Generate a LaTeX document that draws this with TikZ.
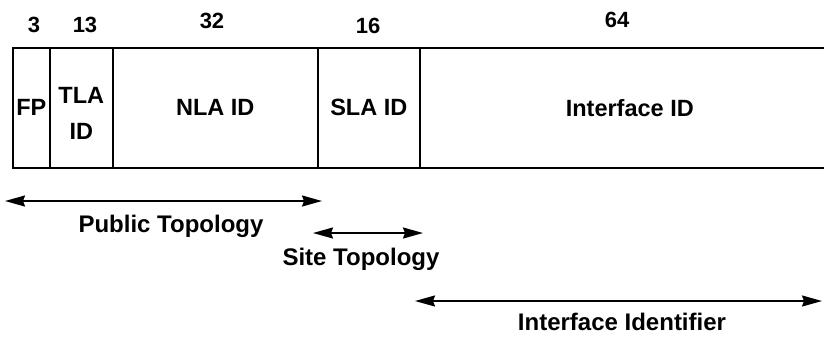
\documentclass[tikz,border=0pt]{standalone}
\usepackage{fontspec}
\setmainfont{Liberation Sans}
\usetikzlibrary{arrows.meta,positioning}
\tikzset{
  field/.style={draw, line width=1.6pt, minimum height=120pt, inner sep=0pt,
                anchor=north west, align=center, font=\fontsize{23.5}{36}\selectfont\bfseries},
  bits/.style={anchor=base, font=\fontsize{22}{26}\selectfont\bfseries},   % field length in bits
  span/.style={{Stealth[length=20pt,width=11pt,inset=2pt]}-{Stealth[length=20pt,width=11pt,inset=2pt]},
               line width=1.8pt},
  tag/.style={anchor=base, font=\fontsize{24}{28}\selectfont\bfseries},
}
% #1 name, #2 left edge, #3 width, #4 text
\newcommand{\fieldat}[4]{\node[field, minimum width=#3pt] (#1) at (#2,47) {#4};}

\begin{document}
\begin{tikzpicture}[x=1pt,y=-1pt]
  \useasboundingbox (0,0) rectangle (824,338);

  % address fields
  \fieldat{fp}{12}{37}{FP}
  \fieldat{tla}{49}{63}{}
  \fieldat{nla}{112}{205}{NLA ID}
  \fieldat{sla}{317}{102}{SLA ID}
  \fieldat{ifid}{419}{420}{Interface ID}
  \node[align=center, inner sep=0pt, font=\fontsize{23.5}{36}\selectfont\bfseries,
        yshift=-6pt] (tlatxt) at (tla.center) {TLA\\ID};

  % bit counts
  \node[bits] (bfp)  at (34,32)  {3};
  \node[bits] (btla) at (85,32)  {13};
  \node[bits] (bnla) at (212,28) {32};
  \node[bits] (bsla) at (368,33) {16};
  \node[bits] (bif)  at (617,27) {64};

  % topology spans
  \coordinate (pubL) at (5,201);   \coordinate (pubR) at (322,201);
  \coordinate (siteL) at (313,233); \coordinate (siteR) at (423,233);
  \coordinate (ifL) at (415,301);  \coordinate (ifR) at (822,301);
  \draw[span] (pubL) -- (pubR);
  \draw[span] (siteL) -- (siteR);
  \draw[span] (ifL) -- (ifR);

  \node[tag] (pub)  at (171,232) {Public Topology};
  \node[tag] (site) at (361,265) {Site Topology};
  \node[tag] (ifc)  at (622,330) {Interface Identifier};
\end{tikzpicture}
\end{document}
